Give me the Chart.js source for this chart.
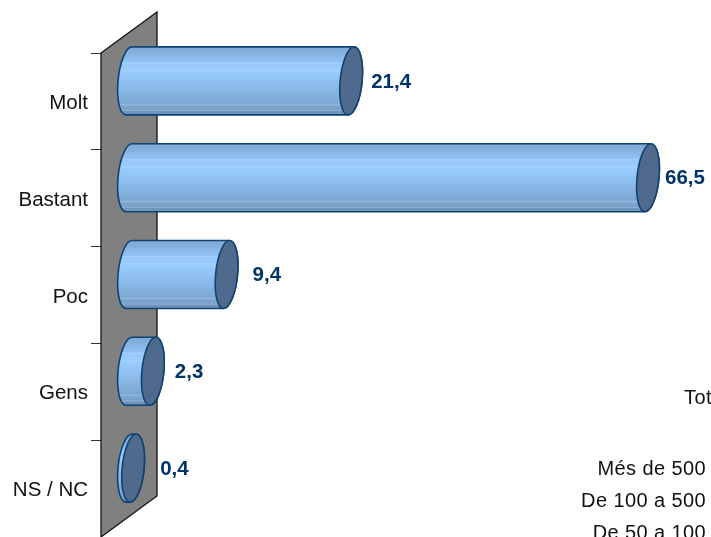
<!DOCTYPE html>
<html>
<head>
<meta charset="utf-8">
<style>
  html, body { margin: 0; padding: 0; background: #fff; overflow: hidden; }
  canvas { display: block; }
</style>
<script src="https://cdn.jsdelivr.net/npm/chart.js@4"></script>
</head>
<body>
<canvas id="chart" width="711" height="537"></canvas>
<script>
// Chart data
const categories = ['Molt', 'Bastant', 'Poc', 'Gens', 'NS / NC'];
const values = [21.4, 66.5, 9.4, 2.3, 0.4];
const axisMax = 50; // the axis stops at 50, so the 66,5 bar is cut there

// Text of the next chart, cut off by the edge of the picture
const nextChartTitle = 'Total';
const nextChartLabels = ['Més de 500', 'De 100 a 500', 'De 50 a 100'];

const FONT = '"Liberation Sans", Arial, sans-serif';
const WALL_DX = 56;
const WALL_DY = -41;
const BAR_RX = 11;
const BAR_SHEAR = 3;
const LABEL_GAPS = [20, 17, 26, 22, 27];

// Colour bands of the cylinder, top to bottom
const BAR_BANDS = [
    [0, '#7FA9D6'], [0.08, '#83AEDD'], [0.14, '#8AB8E8'], [0.22, '#90C2F4'], [0.235, '#A8D2FA'],
    [0.25, '#96C8FB'], [0.33, '#99CCFF'], [0.345, '#ABD3FA'], [0.36, '#99CCFF'], [0.47, '#93C4F6'],
    [0.6, '#8BBAEA'], [0.72, '#83B0DE'], [0.83, '#7CA7D3'], [0.85, '#95B7DA'], [0.87, '#7CA6D1'],
    [0.92, '#789FC8'], [0.935, '#94B2D2'], [0.95, '#7096BE'], [1, '#6D92B9']
];

function comma(v) {
    return v.toFixed(1).replace('.', ',');
}

// Back wall of the 3D plot
const wallPlugin = {
    id: 'wall',
    beforeDatasetsDraw(chart) {
        const a = chart.chartArea;
        const ctx = chart.ctx;
        ctx.save();
        ctx.beginPath();
        ctx.moveTo(a.left, a.top);
        ctx.lineTo(a.left + WALL_DX, a.top + WALL_DY);
        ctx.lineTo(a.left + WALL_DX, a.bottom + WALL_DY);
        ctx.lineTo(a.left, a.bottom);
        ctx.closePath();
        ctx.fillStyle = '#808080';
        ctx.fill();
        ctx.strokeStyle = '#111';
        ctx.lineWidth = 1.3;
        ctx.stroke();
        ctx.restore();
    }
};

function capPath(ctx, cx, cy, ry, start, end, ccw) {
    ctx.save();
    ctx.transform(1, 0, -BAR_SHEAR / ry, 1, cx, cy);
    ctx.ellipse(0, 0, BAR_RX, ry, 0, start, end, ccw);
    ctx.restore();
}

// The cylinders sit halfway through the depth of the wall
const cylinderPlugin = {
    id: 'cylinders',
    afterDatasetsDraw(chart) {
        const ctx = chart.ctx;
        const xScale = chart.scales.x;
        chart.getDatasetMeta(0).data.forEach(function(bar, i) {
            const ry = bar.height / 2;
            const cy = bar.y + WALL_DY / 2;
            const x0 = xScale.getPixelForValue(0) + WALL_DX / 2;
            const x1 = Math.min(bar.x, xScale.right) + WALL_DX / 2;

            const grad = ctx.createLinearGradient(0, cy - ry, 0, cy + ry);
            BAR_BANDS.forEach(function(b) { grad.addColorStop(b[0], b[1]); });

            ctx.save();
            ctx.beginPath();
            capPath(ctx, x0, cy, ry, -Math.PI / 2, Math.PI / 2, true);
            capPath(ctx, x1, cy, ry, Math.PI / 2, -Math.PI / 2, true);
            ctx.closePath();
            ctx.fillStyle = grad;
            ctx.fill();
            ctx.strokeStyle = '#0F4373';
            ctx.lineWidth = 1.6;
            ctx.stroke();

            ctx.beginPath();
            capPath(ctx, x1, cy, ry, 0, Math.PI * 2, false);
            ctx.closePath();
            ctx.fillStyle = '#4F6A8C';
            ctx.fill();
            ctx.stroke();

            ctx.fillStyle = '#003366';
            ctx.font = 'bold 20.5px ' + FONT;
            ctx.textAlign = 'left';
            ctx.textBaseline = 'middle';
            ctx.fillText(comma(values[i]), x1 + LABEL_GAPS[i], cy + 1);
            ctx.restore();
        });
    }
};

const nextChartPlugin = {
    id: 'nextChart',
    afterDraw(chart) {
        const ctx = chart.ctx;
        ctx.save();
        ctx.fillStyle = '#111';
        ctx.font = '20px ' + FONT;
        ctx.letterSpacing = '0.4px';
        ctx.textBaseline = 'middle';
        ctx.textAlign = 'left';
        ctx.fillText(nextChartTitle, 684, 398);
        ctx.textAlign = 'right';
        nextChartLabels.forEach(function(label, i) {
            ctx.fillText(label, 706, 469 + i * 32);
        });
        ctx.restore();
    }
};

new Chart(document.getElementById('chart'), {
    type: 'bar',
    data: {
        labels: categories,
        datasets: [{
            data: values,
            backgroundColor: 'transparent',
            borderWidth: 0,
            barThickness: 68
        }]
    },
    options: {
        indexAxis: 'y',
        responsive: false,
        animation: false,
        layout: { padding: { top: 53, right: 91, bottom: 0, left: 0 } },
        plugins: { legend: { display: false }, tooltip: { enabled: false } },
        scales: {
            x: { display: false, min: 0, max: axisMax },
            y: {
                afterFit: function(scale) {
                    scale.width = 101;
                    scale.paddingTop = 0;
                    scale.paddingBottom = 0;
                },
                border: { display: false },
                grid: {
                    offset: true,
                    drawOnChartArea: false,
                    tickLength: 10,
                    tickColor: '#333'
                },
                ticks: {
                    padding: 3,
                    labelOffset: 2,
                    color: '#111',
                    font: { family: FONT, size: 20.5 }
                }
            }
        }
    },
    plugins: [wallPlugin, cylinderPlugin, nextChartPlugin]
});
</script>
</body>
</html>
